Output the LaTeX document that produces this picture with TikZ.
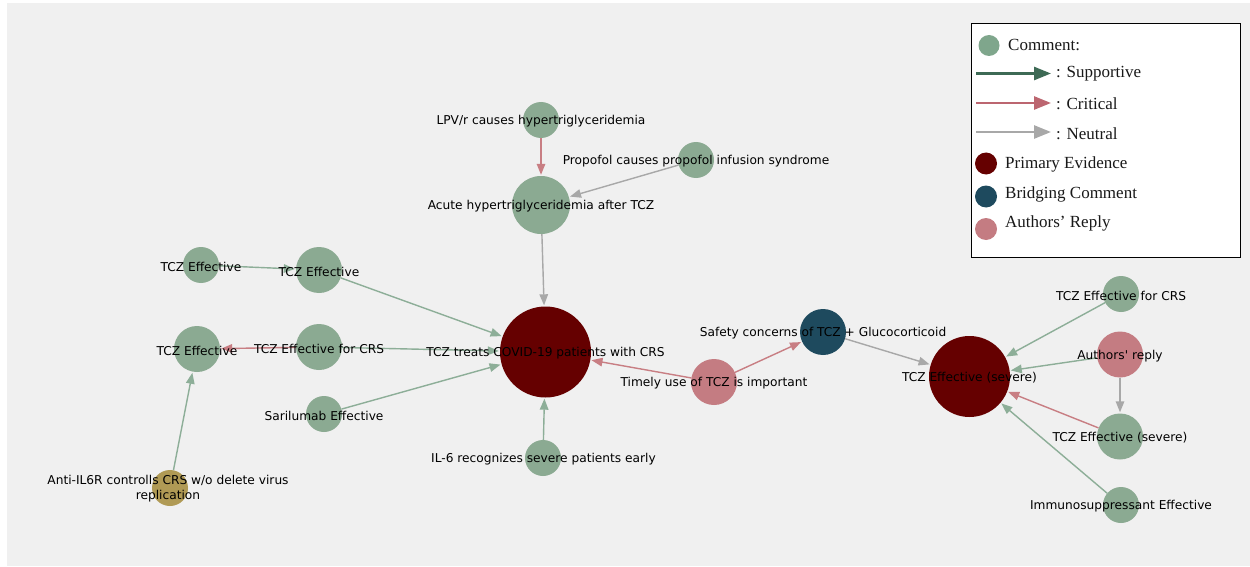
\documentclass[tikz,border=0pt]{standalone}
\usepackage{fontspec}
\setmainfont{Liberation Serif}
\newfontfamily\lblfont{DejaVu Sans}
\usetikzlibrary{arrows.meta}
\definecolor{bgc}{HTML}{F0F0F0}
\definecolor{cmt}{HTML}{8BAA92}
\definecolor{primc}{HTML}{650000}
\definecolor{bridc}{HTML}{1E4A5E}
\definecolor{authc}{HTML}{C47C82}
\definecolor{olivec}{HTML}{B09A55}
\definecolor{egreen}{HTML}{8DAE98}
\definecolor{epink}{HTML}{C87E83}
\definecolor{egray}{HTML}{A8A8A8}
\definecolor{lsup}{HTML}{3D6A55}
\definecolor{lcrit}{HTML}{BC6670}
\definecolor{lneu}{HTML}{A8A8A8}
\definecolor{lcmt}{HTML}{7FA68C}
\begin{document}
\begin{tikzpicture}[x=1pt,y=-1pt,
  vtx/.style={circle,inner sep=0pt,draw=none,minimum size=#1},
  cmtnode/.style={vtx=#1,fill=cmt},
  lbl/.style={font=\lblfont\fontsize{12.2}{15}\selectfont,text=black,inner sep=0pt,align=center,yshift=-1.5pt},
  edge/.style={line width=1.4pt,-{Triangle[length=11pt,width=8.5pt]},shorten >=1pt},
  sup/.style={edge,draw=egreen,fill=egreen},
  crit/.style={edge,draw=epink,fill=epink},
  neu/.style={edge,draw=egray,fill=egray},
  legarrow/.style={line width=2.6pt,-{Triangle[length=17pt,width=13pt]}},
  legtext/.style={font=\fontsize{17}{20}\selectfont,anchor=west,inner sep=0pt,text=black!90}
]
\useasboundingbox (0,0) rectangle (1250,567);
\fill[white] (0,0) rectangle (1250,567);
\fill[bgc] (7,3) rectangle (1250,566);

% nodes
\node[cmtnode=36] (lpv) at (541,120) {};
\node[cmtnode=36] (prop) at (696,160) {};
\node[cmtnode=58] (acute) at (541,205) {};
\node[cmtnode=36] (te1) at (201,265) {};
\node[cmtnode=46] (te2) at (319,270) {};
\node[cmtnode=46] (te3) at (197,349) {};
\node[cmtnode=46] (tcrs) at (319,347) {};
\node[cmtnode=36] (sari) at (324,414) {};
\node[vtx=91,fill=primc] (prim) at (545.5,352) {};
\node[cmtnode=36] (il6) at (543,458) {};
\node[vtx=36,fill=olivec] (anti) at (170,488) {};
\node[vtx=46,fill=authc] (timely) at (714,382) {};
\node[vtx=46,fill=bridc] (safety) at (823,332) {};
\node[vtx=81,fill=primc] (sev) at (969.5,376.5) {};
\node[cmtnode=36] (rcrs) at (1121,294) {};
\node[vtx=46,fill=authc] (reply) at (1120,354.5) {};
\node[cmtnode=46] (rsev) at (1120,436.5) {};
\node[cmtnode=36] (immu) at (1121,505) {};

% edges
\draw[crit] (lpv) -- (acute);
\draw[neu] (prop) -- (acute);
\draw[neu] (acute) -- (prim);
\draw[sup] (te1) -- (te2);
\draw[sup] (te2) -- (prim);
\draw[crit] (tcrs) -- (te3);
\draw[sup] (tcrs) -- (prim);
\draw[sup] (sari) -- (prim);
\draw[sup] (anti) -- (te3);
\draw[sup] (il6) -- (prim);
\draw[crit] (timely) -- (prim);
\draw[crit] (timely) -- (safety);
\draw[neu] (safety) -- (sev);
\draw[sup] (rcrs) -- (sev);
\draw[sup] (reply) -- (sev);
\draw[neu] (reply) -- (rsev);
\draw[crit] (rsev) -- (sev);
\draw[sup] (immu) -- (sev);

% labels
\node[lbl] (llpv) at (lpv.center) {LPV/r causes hypertriglyceridemia};
\node[lbl] (lprop) at (prop.center) {Propofol causes propofol infusion syndrome};
\node[lbl] (lacute) at (acute.center) {Acute hypertriglyceridemia after TCZ};
\node[lbl] (lte1) at (te1.center) {TCZ Effective};
\node[lbl] (lte2) at (te2.center) {TCZ Effective};
\node[lbl] (lte3) at (te3.center) {TCZ Effective};
\node[lbl] (ltcrs) at (tcrs.center) {TCZ Effective for CRS};
\node[lbl] (lsari) at (sari.center) {Sarilumab Effective};
\node[lbl] (lprim) at (prim.center) {TCZ treats COVID-19 patients with CRS};
\node[lbl] (lil6) at ([xshift=0.5pt]il6.center) {IL-6 recognizes severe patients early};
\node[lbl] (lanti) at ([xshift=-2pt,yshift=0.5pt]anti.center) {Anti-IL6R controlls CRS w/o delete virus\\replication};
\node[lbl] (ltimely) at (timely.center) {Timely use of TCZ is important};
\node[lbl] (lsafety) at (safety.center) {Safety concerns of TCZ + Glucocorticoid};
\node[lbl] (lsev) at (sev.center) {TCZ Effective (severe)};
\node[lbl] (lrcrs) at (rcrs.center) {TCZ Effective for CRS};
\node[lbl] (lreply) at (reply.center) {Authors\textquotesingle\ reply};
\node[lbl] (lrsev) at (rsev.center) {TCZ Effective (severe)};
\node[lbl] (limmu) at (immu.center) {Immunosuppressant Effective};

% legend
\node[draw=black,line width=1.3pt,fill=white,inner sep=0pt,minimum width=269pt,minimum height=234pt,anchor=north west] (legend) at (971,23) {};
\node[circle,fill=lcmt,inner sep=0pt,minimum size=21pt] (lgc) at (989,45.5) {};
\node[legtext] (lgct) at (1008,45) {Comment:};
\coordinate (s1) at (976,73.5);
\coordinate (s2) at (1051,73.5);
\draw[legarrow,draw=lsup,fill=lsup] (s1) -- (s2);
\node[legtext] (lgst) at (1056,74) {: Supportive};
\coordinate (c1) at (976,103);
\coordinate (c2) at (1051,103);
\draw[legarrow,draw=lcrit,fill=lcrit] (c1) -- (c2);
\node[legtext] (lgcr) at (1056,104) {: Critical};
\coordinate (n1) at (976,132);
\coordinate (n2) at (1051,132);
\draw[legarrow,draw=lneu,fill=lneu] (n1) -- (n2);
\node[legtext] (lgnt) at (1056,134) {: Neutral};
\node[circle,fill=primc,inner sep=0pt,minimum size=22pt] (lgp) at (986,163.5) {};
\node[legtext] (lgpt) at (1005,164) {Primary Evidence};
\node[circle,fill=bridc,inner sep=0pt,minimum size=22pt] (lgb) at (986,196.5) {};
\node[legtext] (lgbt) at (1005,194) {Bridging Comment};
\node[circle,fill=authc,inner sep=0pt,minimum size=22pt] (lga) at (986,229) {};
\node[legtext] (lgat) at (1005,223) {Authors’ Reply};
\end{tikzpicture}
\end{document}
